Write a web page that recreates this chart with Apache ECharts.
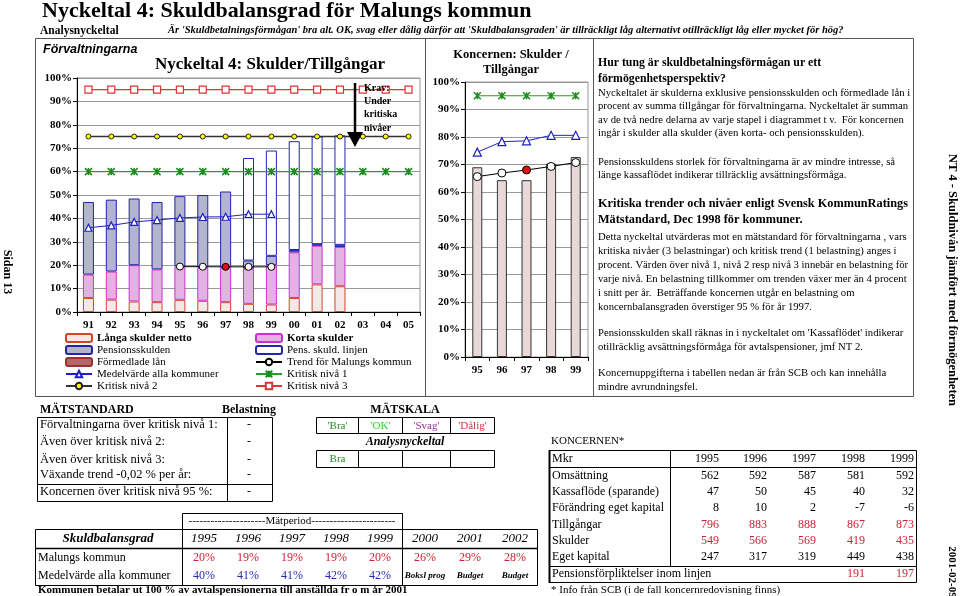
<!DOCTYPE html>
<html><head><meta charset="utf-8">
<script src="https://cdn.jsdelivr.net/npm/echarts/dist/echarts.min.js"></script>
<style>html,body{margin:0;padding:0;background:#fff}#c{width:960px;height:596px}</style>
</head><body><div id="c"></div>
<script>
// ---------- DATA ----------
const yearsF = ['91','92','93','94','95','96','97','98','99','00','01','02','03','04','05'];
const langaSkulder   = [6.0, 5.3, 4.5, 4.2, 5.2, 4.8, 4.2, 3.5, 3.2, 6.0, 11.8, 11.0, null, null, null];
const kortaSkulder   = [10.0, 12.0, 15.5, 14.0, 14.3, 14.2, 14.8, 15.0, 16.8, 19.5, 16.5, 16.8, null, null, null];
const formedladeLan  = [null, null, null, null, null, null, null, null, null, null, null, null, null, null, null];
const pensionsskulden= [31.0, 30.7, 28.5, 28.8, 30.0, 31.0, 32.5, 3.5, 4.0, 1.0, 0.7, 0.9, null, null, null];
const pensLinjen     = [null, null, null, null, null, null, null, 43.8, 45.0, 46.5, 46.0, 46.8, null, null, null];
const medelvarde     = [36.0, 37.0, 38.5, 39.3, 40.2, 40.6, 40.7, 41.8, 41.8, null, null, null, null, null, null];
const trendMalung    = [null, null, null, null, 19.4, 19.35, 19.3, 19.3, 19.3, null, null, null, null, null, null];
const kritisk1       = [60, 60, 60, 60, 60, 60, 60, 60, 60, 60, 60, 60, 60, 60, 60];
const kritisk2       = [75, 75, 75, 75, 75, 75, 75, 75, 75, 75, 75, 75, 75, 75, 75];
const kritisk3       = [95, 95, 95, 95, 95, 95, 95, 95, 95, 95, 95, 95, 95, 95, 95];
const trendRedIndex  = 6;

const yearsK = ['95','96','97','98','99'];
const koncernSkuldgrad = [69.0, 64.3, 64.3, 70.3, 72.7];
const koncernKritisk   = [95, 95, 95, 95, 95];
const koncernMedel     = [74.5, 78.3, 78.6, 80.6, 80.6];
const koncernTrend     = [65.6, 66.9, 68.0, 69.3, 70.7];
const koncernRedIndex  = 2;

const matstandardRows = ['Förvaltningarna över kritisk nivå 1:','Även över kritisk nivå 2:','Även över kritisk nivå 3:','Växande trend -0,02 % per år:','Koncernen över kritisk nivå 95 %:'];
const belastning = ['-','-','-','-','-'];
const matskala = ["'Bra'","'OK'","'Svag'","'Dålig'"];
const analysResult = ['Bra','','',''];

const sbYears   = ['1995','1996','1997','1998','1999','2000','2001','2002'];
const sbMalungs = ['20%','19%','19%','19%','20%','26%','29%','28%'];
const sbMedel   = ['40%','41%','41%','42%','42%'];
const sbNotes   = ['Boksl prog','Budget','Budget'];

const kYears = ['1995','1996','1997','1998','1999'];
const kRows = [
  ['Omsättning',              ['562','592','587','581','592'], false],
  ['Kassaflöde (sparande)',   ['47','50','45','40','32'], false],
  ['Förändring eget kapital', ['8','10','2','-7','-6'], false],
  ['Tillgångar',              ['796','883','888','867','873'], true],
  ['Skulder',                 ['549','566','569','419','435'], true],
  ['Eget kapital',            ['247','317','319','449','438'], false]
];
const kPension = ['','','','191','197'];

// ---------- STYLE ----------
const SERIF = '"Liberation Serif","Times New Roman",serif';
const SANS = '"Liberation Sans",Arial,sans-serif';
const g = [];
function T(text, x, y, o) {
  o = o || {};
  g.push({type:'text', x:x, y:y, rotation:o.rot||0, silent:true, z:20,
    style:{text:text, fontFamily:o.ff||SERIF, fontSize:o.fs||10, fontWeight:o.fw||'normal',
      fontStyle:o.it?'italic':'normal', fill:o.c||'#000', textAlign:o.al||'left', textVerticalAlign:'middle'}});
}
function L(x1,y1,x2,y2,w,c){ g.push({type:'line', silent:true, z:20, shape:{x1:x1,y1:y1,x2:x2,y2:y2}, style:{stroke:c||'#000', lineWidth:w||1}}); }
function R(x,y,w,h,lw,c){ g.push({type:'rect', silent:true, z:20, shape:{x:x,y:y,width:w,height:h}, style:{fill:null, stroke:c||'#000', lineWidth:lw||1}}); }

// header
T('Nyckeltal 4: Skuldbalansgrad för Malungs kommun', 42, 11, {fs:22, fw:'bold'});
T('Analysnyckeltal', 40, 31, {fs:11.5, fw:'bold'});
T("Är 'Skuldbetalningsförmågan' bra alt. OK, svag eller dålig därför att 'Skuldbalansgraden' är tillräckligt låg alternativt otillräckligt låg eller mycket för hög?", 168, 30, {fs:10.5, fw:'bold', it:true});

// frames
R(35.5, 38.5, 390, 358, 1, '#555');
R(425.5, 38.5, 168, 358, 1, '#555');
R(593.5, 38.5, 320, 358, 1, '#555');

// left chart labels
T('Förvaltningarna', 43, 50, {ff:SANS, fs:12.5, fw:'bold', it:true});
T('Nyckeltal 4: Skulder/Tillgångar', 270, 65, {fs:17, fw:'bold', al:'center'});
// arrow annotation
L(355, 83, 355, 134, 2.5);
g.push({type:'polygon', silent:true, z:20, shape:{points:[[347,132],[363,132],[355,147]]}, style:{fill:'#000'}});
['Krav:','Under','kritiska','nivåer'].forEach(function(s,i){ T(s, 364, 88+i*13.4, {fs:10, fw:'bold'}); });

// right chart title
T('Koncernen: Skulder /', 511, 55, {fs:12.5, fw:'bold', al:'center'});
T('Tillgångar', 511, 70, {fs:12.5, fw:'bold', al:'center'});

// right text block
const TX = 598;
T('Hur tung är skuldbetalningsförmågan ur ett', TX, 63, {fs:11.8, fw:'bold'});
T('förmögenhetsperspektiv?', TX, 79, {fs:11.8, fw:'bold'});
[['Nyckeltalet är skulderna exklusive pensionsskulden och förmedlade lån i',93],
 ['procent av summa tillgångar för förvaltningarna. Nyckeltalet är summan',106],
 ['av de två nedre delarna av varje stapel i diagrammet t v.  För koncernen',120],
 ['ingår i skulder alla skulder (även korta- och pensionsskulden).',133],
 ['Pensionsskuldens storlek för förvaltningarna är av mindre intresse, så',162],
 ['länge kassaflödet indikerar tillräcklig avsättningsförmåga.',175]
].forEach(function(a){ T(a[0], TX, a[1], {fs:10.7}); });
T('Kritiska trender och nivåer enligt Svensk KommunRatings', TX, 204, {fs:12.3, fw:'bold'});
T('Mätstandard, Dec 1998 för kommuner.', TX, 220, {fs:12.3, fw:'bold'});
[['Detta nyckeltal utvärderas mot en mätstandard för förvaltningarna , vars',237],
 ['kritiska nivåer (3 belastningar) och kritisk trend (1 belastning) anges i',251],
 ['procent. Värden över nivå 1, nivå 2 resp nivå 3 innebär en belastning för',265],
 ['varje nivå. En belastning tillkommer om trenden växer mer än 4 procent',279],
 ['i snitt per år.  Beträffande koncernen utgår en belastning om',293],
 ['koncernbalansgraden överstiger 95 % för år 1997.',307],
 ["Pensionsskulden skall räknas in i nyckeltalet om 'Kassaflödet' indikerar",333],
 ['otillräcklig avsättningsförmåga för avtalspensioner, jmf NT 2.',347],
 ['Koncernuppgifterna i tabellen nedan är från SCB och kan innehålla',373],
 ['mindre avrundningsfel.',387]
].forEach(function(a){ T(a[0], TX, a[1], {fs:10.7}); });

// side texts
T('Sidan 13', 7, 272, {fs:12, fw:'bold', al:'center', rot:-Math.PI/2});
T('NT 4 - Skuldnivån jämfört med förmögenheten', 952, 280, {fs:12.5, fw:'bold', al:'center', rot:-Math.PI/2});
T('2001-02-09', 952, 572, {fs:11, fw:'bold', al:'center', rot:-Math.PI/2});

// MÄTSTANDARD table
T('MÄTSTANDARD', 40, 410, {fs:12, fw:'bold'});
T('Belastning', 249, 410, {fs:12, fw:'bold', al:'center'});
R(37.5, 417.5, 235, 84);
L(227.5, 417, 227.5, 501.5);
L(37, 484.5, 272.5, 484.5);
const msY = [425, 442, 460, 475, 492];
matstandardRows.forEach(function(s,i){ T(s, 40, msY[i], {fs:12.5}); T(belastning[i], 249, msY[i], {fs:12, al:'center'}); });

// MÄTSKALA
T('MÄTSKALA', 405, 410, {fs:12, fw:'bold', al:'center'});
const mxEdges = [316.5, 358.5, 402.5, 450.5, 494.5];
const mColors = ['#1f8f1f','#2ecc2e','#993399','#cc3344'];
R(316.5, 417.5, 178, 16);
R(316.5, 450.5, 178, 17);
[358.5, 402.5, 450.5].forEach(function(x){ L(x,417.5,x,433.5); L(x,450.5,x,467.5); });
matskala.forEach(function(s,i){ T(s, (mxEdges[i]+mxEdges[i+1])/2, 426, {fs:11, c:mColors[i], al:'center'}); });
T('Analysnyckeltal', 405, 442, {fs:12, fw:'bold', it:true, al:'center'});
analysResult.forEach(function(s,i){ if(s) T(s, (mxEdges[i]+mxEdges[i+1])/2, 459, {fs:11, c:mColors[0], al:'center'}); });

// Skuldbalansgrad table
R(182.5, 513.5, 220, 16);
T('---------------------Mätperiod-----------------------', 292, 521.5, {fs:11, al:'center'});
R(35.5, 529.5, 502, 56);
L(35, 548.5, 538, 548.5, 1.5);
L(182.5, 529.5, 182.5, 585.5);
L(402.5, 513.5, 402.5, 585.5);
const sbX = [204, 248, 292, 336, 380, 425, 470, 515];
T('Skuldbalansgrad', 108, 539, {fs:13, fw:'bold', it:true, al:'center'});
sbYears.forEach(function(s,i){ T(s, sbX[i], 539, {fs:13, it:true, al:'center'}); });
T('Malungs kommun', 38, 558, {fs:12});
T('Medelvärde alla kommuner', 38, 576, {fs:12});
sbMalungs.forEach(function(s,i){ T(s, sbX[i], 558, {fs:12, c:'#cc2233', al:'center'}); });
sbMedel.forEach(function(s,i){ T(s, sbX[i], 576, {fs:12, c:'#2a2ab0', al:'center'}); });
sbNotes.forEach(function(s,i){ T(s, sbX[5+i], 576, {fs:9, fw:'bold', it:true, al:'center'}); });
T('Kommunen betalar ut 100 % av avtalspensionerna till anställda fr o m år 2001', 38, 590, {fs:11, fw:'bold'});

// KONCERNEN table
T('KONCERNEN*', 551, 441, {fs:11});
R(549.5, 450.5, 367, 132);
L(549.5, 450, 549.5, 583, 2);
L(549, 467.5, 917, 467.5);
L(549, 566.5, 917, 566.5);
L(670.5, 450.5, 670.5, 566.5);
const kX = [719, 767, 816, 865, 914];
T('Mkr', 552, 459, {fs:12});
kYears.forEach(function(s,i){ T(s, kX[i], 459, {fs:12, al:'right'}); });
const kY = [476, 492, 508, 525, 541, 557];
kRows.forEach(function(r,ri){
  T(r[0], 552, kY[ri], {fs:12});
  r[1].forEach(function(v,i){ T(v, kX[i], kY[ri], {fs:12, al:'right', c:r[2]?'#cc2233':'#000'}); });
});
T('Pensionsförpliktelser inom linjen', 552, 574, {fs:12});
kPension.forEach(function(v,i){ if(v) T(v, kX[i], 574, {fs:12, al:'right', c:'#cc2233'}); });
T('* Info från SCB (i de fall koncernredovisning finns)', 551, 590, {fs:11});

// ---------- CHART ----------
const STAR = 'path://M0,0L10,10M10,0L0,10M5,0L5,10';
const axLabel = {fontFamily:SERIF, fontSize:11, fontWeight:'bold', color:'#000'};
function yAxis(gi){ return {type:'value', gridIndex:gi, min:0, max:100, interval:10,
  axisLine:{show:true, lineStyle:{color:'#000'}}, axisTick:{show:true, length:4, lineStyle:{color:'#000'}},
  axisLabel:Object.assign({formatter:'{value}%', margin:5}, axLabel),
  splitLine:{show:true, lineStyle:{color:'#999', width:1}}}; }
function xAxis(gi, data){ return {type:'category', gridIndex:gi, data:data, boundaryGap:true,
  axisLine:{show:true, lineStyle:{color:'#000'}}, axisTick:{show:true, length:4, lineStyle:{color:'#000'}},
  axisLabel:Object.assign({margin:8, interval:0}, axLabel), splitLine:{show:false}}; }

function trendData(arr, redIdx){ return arr.map(function(v,i){ return i===redIdx ? {value:v, itemStyle:{color:'#dd1111'}} : v; }); }

const boldNames = ['Långa skulder netto','Korta skulder'];
const legText = {fontFamily:SERIF, fontSize:11, color:'#000', lineHeight:12,
  rich:{b:{fontFamily:SERIF, fontSize:11, fontWeight:'bold', lineHeight:12}}};
function legFmt(n){ return boldNames.indexOf(n) >= 0 ? '{b|' + n + '}' : n; }

const option = {
  animation:false,
  backgroundColor:'#fff',
  grid:[
    {left:77, top:78, width:343, height:234, show:true, borderColor:'#999', borderWidth:1, backgroundColor:'#fff'},
    {left:465, top:82, width:123, height:275, show:true, borderColor:'#999', borderWidth:1, backgroundColor:'#fff'}
  ],
  xAxis:[xAxis(0, yearsF), xAxis(1, yearsK)],
  yAxis:[yAxis(0), yAxis(1)],
  legend:[
    {left:65, top:332, padding:0, orient:'vertical', itemGap:0, itemWidth:26, itemHeight:8, textStyle:legText, formatter:legFmt, selectedMode:false,
      data:['Långa skulder netto','Pensionsskulden','Förmedlade lån','Medelvärde alla kommuner','Kritisk nivå 2']},
    {left:255, top:332, padding:0, orient:'vertical', itemGap:0, itemWidth:26, itemHeight:8, textStyle:legText, formatter:legFmt, selectedMode:false,
      data:['Korta skulder','Pens. skuld. linjen','Trend för Malungs kommun','Kritisk nivå 1','Kritisk nivå 3']}
  ],
  graphic:{elements:g},
  series:[
    {name:'Långa skulder netto', type:'bar', stack:'f', barWidth:11, data:langaSkulder,
      itemStyle:{color:'#f4e8e8', borderColor:'#d2452a', borderWidth:1}},
    {name:'Korta skulder', type:'bar', stack:'f', barWidth:11, data:kortaSkulder,
      itemStyle:{color:'#e2b3e2', borderColor:'#cc33cc', borderWidth:1}},
    {name:'Förmedlade lån', type:'bar', stack:'f', barWidth:11, data:formedladeLan,
      itemStyle:{color:'#b06868', borderColor:'#993333', borderWidth:1}},
    {name:'Pensionsskulden', type:'bar', stack:'f', barWidth:11, data:pensionsskulden,
      itemStyle:{color:'#b3b5cd', borderColor:'#2323a8', borderWidth:1}},
    {name:'Pens. skuld. linjen', type:'bar', stack:'f', barWidth:11, data:pensLinjen,
      itemStyle:{color:'#ffffff', borderColor:'#2323b8', borderWidth:1}},
    {name:'Medelvärde alla kommuner', type:'line', data:medelvarde, symbol:'triangle', symbolSize:7,
      lineStyle:{color:'#2020c0', width:1}, itemStyle:{color:'#fff', borderColor:'#2020c0', borderWidth:1.2}, z:5},
    {name:'Trend för Malungs kommun', type:'line', data:trendData(trendMalung, trendRedIndex), symbol:'circle', symbolSize:7,
      lineStyle:{color:'#000', width:1}, itemStyle:{color:'#fff', borderColor:'#000', borderWidth:1}, z:5},
    {name:'Kritisk nivå 1', type:'line', data:kritisk1, symbol:STAR, symbolSize:7,
      lineStyle:{color:'#22a022', width:1.2}, itemStyle:{color:'#1a8a1a', borderColor:'#1a8a1a', borderWidth:1.5}, z:5},
    {name:'Kritisk nivå 2', type:'line', data:kritisk2, symbol:'circle', symbolSize:5,
      lineStyle:{color:'#333', width:1.5}, itemStyle:{color:'#ffff00', borderColor:'#222', borderWidth:1}, z:5},
    {name:'Kritisk nivå 3', type:'line', data:kritisk3, symbol:'rect', symbolSize:7,
      lineStyle:{color:'#dd3333', width:1.2}, itemStyle:{color:'#fff', borderColor:'#dd3333', borderWidth:1.2}, z:5},

    {name:'Koncern skuldgrad', type:'bar', xAxisIndex:1, yAxisIndex:1, barWidth:10, data:koncernSkuldgrad,
      itemStyle:{color:'#e8d8d8', borderColor:'#333', borderWidth:1}},
    {name:'Koncern kritisk', type:'line', xAxisIndex:1, yAxisIndex:1, data:koncernKritisk, symbol:STAR, symbolSize:7,
      lineStyle:{color:'#22a022', width:1.2}, itemStyle:{color:'#1a8a1a', borderColor:'#1a8a1a', borderWidth:1.5}, z:5},
    {name:'Koncern medel', type:'line', xAxisIndex:1, yAxisIndex:1, data:koncernMedel, symbol:'triangle', symbolSize:8,
      lineStyle:{color:'#2020c0', width:1}, itemStyle:{color:'#fff', borderColor:'#2020c0', borderWidth:1.2}, z:5},
    {name:'Koncern trend', type:'line', xAxisIndex:1, yAxisIndex:1, data:trendData(koncernTrend, koncernRedIndex), symbol:'circle', symbolSize:8,
      lineStyle:{color:'#000', width:1}, itemStyle:{color:'#fff', borderColor:'#000', borderWidth:1}, z:5}
  ]
};
const chart = echarts.init(document.getElementById('c'), null, {renderer:'canvas'});
chart.setOption(option);
</script></body></html>
